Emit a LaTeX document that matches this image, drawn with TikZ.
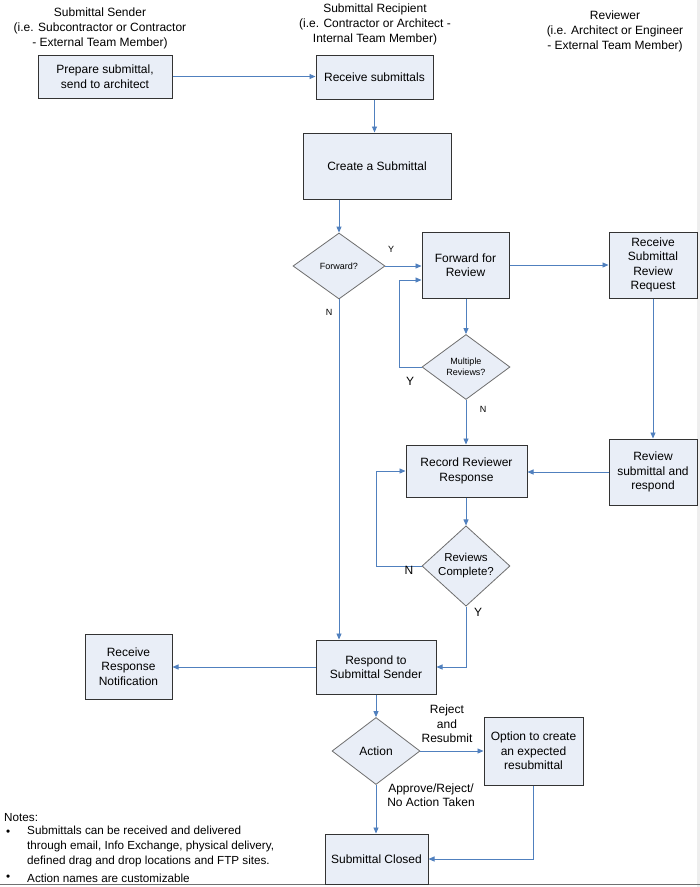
\documentclass[tikz,border=0pt]{standalone}
\usepackage{fontspec}
\setmainfont{Liberation Sans}
\usetikzlibrary{shapes.geometric,arrows.meta}
\definecolor{boxfill}{HTML}{E9EEF7}
\definecolor{boxline}{HTML}{333333}
\definecolor{dialine}{HTML}{6E6E6E}
\definecolor{conn}{HTML}{5080BE}
\definecolor{edgegray}{HTML}{EEEEEE}
\tikzset{
 proc/.style={draw=boxline, fill=boxfill, line width=1pt, align=center, inner sep=2pt, font=\fontsize{12}{14.5}\selectfont},
 dec/.style={diamond, draw=dialine, fill=boxfill, line width=0.8pt, align=center, inner sep=0pt},
 arr/.style={draw=conn, line width=0.9pt, -{Triangle[length=6pt,width=5pt]}},
 lab/.style={font=\fontsize{12}{14.5}\selectfont, align=center, inner sep=0pt},
 slab/.style={font=\fontsize{9}{11}\selectfont, inner sep=0pt},
 head/.style={font=\fontsize{12}{15}\selectfont, align=center, inner sep=0pt},
 note/.style={font=\fontsize{11.7}{14.7}\selectfont, align=left, inner sep=0pt, anchor=west},
}
\begin{document}
\begin{tikzpicture}[x=1pt,y=-1pt]
\useasboundingbox (0,0) rectangle (700,887);
\fill[white] (0,0) rectangle (700,887);
\fill[edgegray] (697,0) rectangle (700,887);
\draw[draw=boxline!70, line width=1.5pt] (0,884.5) -- (700,884.5);

% headers
\node[head] (hs) at (100,28) {Submittal Sender\\(i.e. Subcontractor or Contractor\\- External Team Member)};
\node[head] (hr) at (375,24) {Submittal Recipient\\(i.e. Contractor or Architect -\\Internal Team Member)};
\node[head] (hv) at (615,31) {Reviewer\\(i.e. Architect or Engineer\\- External Team Member)};

% boxes
\node[proc, minimum width=134pt, minimum height=43pt] (prep) at (105,76.5) {Prepare submittal,\\send to architect};
\node[proc, minimum width=117pt, minimum height=44pt] (recv) at (374.5,77) {Receive submittals};
\node[proc, minimum width=148pt, minimum height=66pt] (create) at (377,166) {Create a Submittal};
\node[proc, minimum width=87pt, minimum height=66pt] (ffr) at (465.5,265) {Forward for\\Review};
\node[proc, minimum width=88pt, minimum height=66pt] (rsrr) at (653,265) {Receive\\Submittal\\Review\\Request};
\node[proc, minimum width=121pt, minimum height=52pt] (rec) at (466.5,471) {Record Reviewer\\Response};
\node[proc, minimum width=88pt, minimum height=66pt] (rsr) at (653,472) {Review\\submittal and\\respond};
\node[proc, minimum width=87pt, minimum height=65pt] (rrn) at (128.5,666.5) {Receive\\Response\\Notification};
\node[proc, minimum width=120pt, minimum height=54pt] (resp) at (376,667) {Respond to\\Submittal Sender};
\node[proc, minimum width=99pt, minimum height=68pt] (opt) at (533.5,751) {Option to create\\an expected\\resubmittal};
\node[proc, minimum width=103pt, minimum height=50pt] (closed) at (376.5,859) {Submittal Closed};

% decisions
\node[dec, minimum width=92pt, minimum height=66pt, font=\fontsize{9}{11}\selectfont] (fwd) at (339,266) {Forward?};
\node[dec, minimum width=88pt, minimum height=65pt, font=\fontsize{9}{11}\selectfont] (mult) at (466,367) {Multiple\\Reviews?};
\node[dec, minimum width=88pt, minimum height=62pt, font=\fontsize{11.5}{14}\selectfont] (rc) at (466,566) {Reviews\\Complete?};
\node[dec, minimum width=88pt, minimum height=67pt, font=\fontsize{12}{14.5}\selectfont] (act) at (376,751) {Action};

% connectors
\draw[arr] (prep.east) -- (prep.east -| recv.west);
\draw[arr] (recv.south) -- (recv.south |- create.north);
\draw[arr] (create.south -| fwd.north) -- (fwd.north);
\draw[arr] (fwd.east) -- (fwd.east -| ffr.west);
\draw[arr] (fwd.south) -- (fwd.south |- resp.north);
\draw[arr] (ffr.east) -- (ffr.east -| rsrr.west);
\draw[arr] (ffr.south -| mult.north) -- (mult.north);
\draw[arr] (mult.west) -- ++(-22,0) |- ([yshift=-15pt]ffr.west);
\draw[arr] (mult.south) -- (mult.south |- rec.north);
\draw[arr] (rsrr.south) -- (rsr.north);
\draw[arr] (rsr.west) -- (rsr.west -| rec.east);
\draw[arr] (rec.south -| rc.north) -- (rc.north);
\draw[arr] (rc.west) -- ++(-45,0) |- (rec.west);
\draw[arr] (rc.south) |- (resp.east);
\draw[arr] (resp.west) -- (resp.west -| rrn.east);
\draw[arr] (resp.south) -- (act.north);
\draw[arr] (act.east) -- (act.east -| opt.west);
\draw[arr] (act.south) -- (act.south |- closed.north);
\draw[arr] (opt.south) |- (closed.east);

% labels
\node[slab] (ly1) at (391,249) {Y};
\node[slab] (ln1) at (329,312) {N};
\node[lab] (ly2) at (410,381) {Y};
\node[slab] (ln2) at (483,409) {N};
\node[lab] (ln3) at (409,570) {N};
\node[lab] (ly3) at (478,612) {Y};
\node[lab] (lrej) at (447,724) {Reject\\and\\Resubmit};
\node[lab] (lapp) at (431,795) {Approve/Reject/\\No Action Taken};

% notes
\node[note] (n0) at (4,818) {Notes:};
\node[note] (b1) at (6,833) {•};
\node[note, anchor=north west] (n1) at (27,826) {Submittals can be received and delivered\\through email, Info Exchange, physical delivery,\\defined drag and drop locations and FTP sites.};
\node[note] (b2) at (6,878) {•};
\node[note] (n2) at (27,878) {Action names are customizable};
\end{tikzpicture}
\end{document}
